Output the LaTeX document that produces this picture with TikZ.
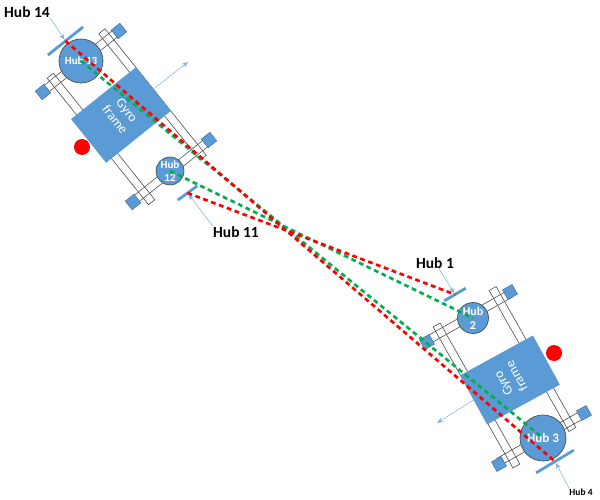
\documentclass[tikz,border=0pt]{standalone}
\usepackage{fontspec}
\setmainfont{Carlito}
\usetikzlibrary{arrows.meta}
\definecolor{hubblue}{HTML}{5B9BD5}
\definecolor{hubedge}{HTML}{41719C}
\definecolor{beamgreen}{HTML}{00B050}
\begin{document}
\begin{tikzpicture}[x=1pt,y=-1pt]
            \tikzset{rail/.style = {shape=rectangle, draw=black!70, line width=0.6pt, minimum width=162pt, minimum height=8pt, inner sep=0pt}}
            \tikzset{axle/.style = {rail, minimum width=97pt}}
            \tikzset{foot/.style = {shape=rectangle, draw=hubedge, fill=hubblue, line width=0.5pt, minimum size=11pt, inner sep=0pt}}
            \tikzset{hub/.style = {shape=circle, draw=black!70, fill=hubblue, line width=0.7pt, inner sep=0pt, text=white, align=center, font=\fontsize{11}{13}\selectfont\bfseries}}
            \tikzset{gyro/.style = {shape=rectangle, fill=hubblue, minimum width=56pt, minimum height=83pt, inner sep=0pt, text=white, align=center, font=\fontsize{13.5}{15}\selectfont}}
            \tikzset{dot/.style = {shape=circle, fill=red, minimum size=16pt, inner sep=0pt}}
            \tikzset{bar/.style = {shape=rectangle, fill=hubblue, minimum height=2.8pt, inner sep=0pt}}
            \tikzset{tag/.style = {inner sep=0pt, font=\fontsize{15.5}{17}\selectfont\bfseries}}
            \tikzset{pointer/.style = {draw=hubblue!80, line width=0.5pt, -{Stealth[length=6pt,width=4.5pt]}}}
            \tikzset{beam/.style = {line width=2.7pt, dash pattern=on 4.8pt off 3.6pt}}
            \useasboundingbox (0,0) rectangle (600,500);
            % first vehicle
            \node[rail,rotate=-51.3] (railA) at (152.5,94.5) {};
            \node[rail,rotate=-51.3] (railB) at (101,139) {};
            \node[axle,rotate=38.7] (axleA) at (81,61) {};
            \node[axle,rotate=38.7] (axleB) at (171,171) {};
            \node[foot,rotate=38.7] (footA) at (119,31) {};
            \node[foot,rotate=38.7] (footB) at (43,92) {};
            \node[foot,rotate=38.7] (footC) at (133,202) {};
            \node[foot,rotate=38.7] (footD) at (209,140) {};
            \node[hub,minimum size=44pt] (hubT) at (81,61) {Hub 13};
            \node[hub,minimum size=25pt] (hubL) at (170,171) {Hub\\12};
            \node[gyro,rotate=-51.3] (frameA) at (121,115) {Gyro\\frame};
            \node[dot] (dotA) at (82,147) {};
            \node[bar,minimum width=45pt,rotate=38.7] (barN) at (65.5,41) {};
            \node[bar,minimum width=24pt,rotate=36] (barK) at (187.5,193) {};
            % second vehicle
            \node[rail,rotate=-60.5] (railC) at (532.5,359) {};
            \node[rail,rotate=-60.5] (railD) at (476.5,395.5) {};
            \node[axle,rotate=29.5] (axleC) at (469,317) {};
            \node[axle,rotate=29.5] (axleD) at (541,438) {};
            \node[foot,rotate=29.5] (footE) at (510,292) {};
            \node[foot,rotate=29.5] (footF) at (427,342) {};
            \node[foot,rotate=29.5] (footG) at (499,464) {};
            \node[foot,rotate=29.5] (footH) at (584,413) {};
            \node[hub,minimum size=31pt,font=\fontsize{12}{14}\selectfont\bfseries] (hubB) at (473,318) {Hub\\2};
            \node[hub,minimum size=46pt,font=\fontsize{13}{13}\selectfont\bfseries] (hubC) at (543,438) {Hub 3};
            \node[gyro,rotate=118.7] (frameB) at (510,380) {Gyro\\frame};
            \node[dot] (dotB) at (554,353) {};
            \node[bar,minimum width=25pt,rotate=30.6] (barA) at (455,294.5) {};
            \node[bar,minimum width=44pt,rotate=31] (barD) at (555,461.5) {};
            % labels
            \node[tag] (tagN) at (27,12) {Hub 14};
            \node[tag] (tagK) at (236,232) {Hub 11};
            \node[tag] (tagA) at (435,263) {Hub 1};
            \node[tag,font=\fontsize{9.5}{11}\selectfont\bfseries] (tagD) at (581,492) {Hub 4};
            \coordinate (headA) at (188,62);
            \coordinate (headB) at (437,423);
            % pointers
            \draw[pointer] (frameA.north) -- (headA);
            \draw[pointer] (frameB.north) -- (headB);
            \draw[pointer] (tagN.south east) -- (barN);
            \draw[pointer] (tagK.north west) -- (barK);
            \draw[pointer] (tagA.south) ++(4,0) -- (barA);
            \draw[pointer] (tagD.north west) -- (barD);
            % beams
            \draw[beam,beamgreen] (hubT.center) -- (hubC.center);
            \draw[beam,beamgreen] (hubL.center) -- (hubB.center);
            \draw[beam,red] (barN.center) -- (barD.center);
            \draw[beam,red] (barK.center) -- (barA.center);
        \end{tikzpicture}
\end{document}
